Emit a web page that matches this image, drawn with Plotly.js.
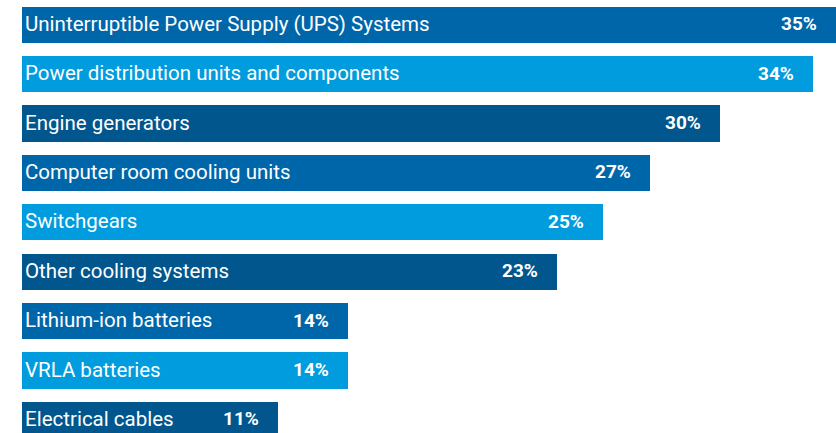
<!DOCTYPE html>
<html>
<head>
<meta charset="utf-8">
<script src="https://cdn.plot.ly/plotly-3.0.1.min.js"></script>
<style>html,body{margin:0;padding:0;background:#fff;}#chart{width:836px;height:433px;}</style>
</head>
<body>
<div id="chart"></div>
<script>
const categories = [
  "Uninterruptible Power Supply (UPS) Systems",
  "Power distribution units and components",
  "Engine generators",
  "Computer room cooling units",
  "Switchgears",
  "Other cooling systems",
  "Lithium-ion batteries",
  "VRLA batteries",
  "Electrical cables"
];
const values = [35, 34, 30, 27, 25, 23, 14, 14, 11];
const palette = ["#0066AA", "#009CDE", "#00568D"];

const ypos = categories.map((c, i) => i);
const colors = categories.map((c, i) => palette[i % 3]);

const trace = {
  type: "bar",
  orientation: "h",
  x: values,
  y: ypos,
  width: 0.73,
  marker: {color: colors},
  hoverinfo: "none"
};

const annotations = [];
categories.forEach((c, i) => {
  annotations.push({
    x: 0, y: i, xref: "x", yref: "y", text: c, showarrow: false,
    xanchor: "left", yanchor: "middle", xshift: 1, yshift: 1,
    font: {family: "Roboto, sans-serif", size: 20.5, color: "#ffffff"}
  });
  annotations.push({
    x: values[i], y: i, xref: "x", yref: "y", text: values[i] + "%", showarrow: false,
    xanchor: "right", yanchor: "middle", xshift: -17, yshift: 1,
    font: {family: "Roboto, sans-serif", size: 19, color: "#ffffff", weight: "bold"}
  });
});

const layout = {
  width: 836, height: 433,
  margin: {l: 22, r: 0, t: 0, b: 0},
  paper_bgcolor: "#ffffff", plot_bgcolor: "#ffffff",
  showlegend: false,
  xaxis: {range: [0, 35.0], visible: false, fixedrange: true},
  yaxis: {range: [8.265, -0.5], visible: false, fixedrange: true},
  annotations: annotations,
  bargap: 0
};

Plotly.newPlot("chart", [trace], layout, {displayModeBar: false, staticPlot: true});
</script>
</body>
</html>
